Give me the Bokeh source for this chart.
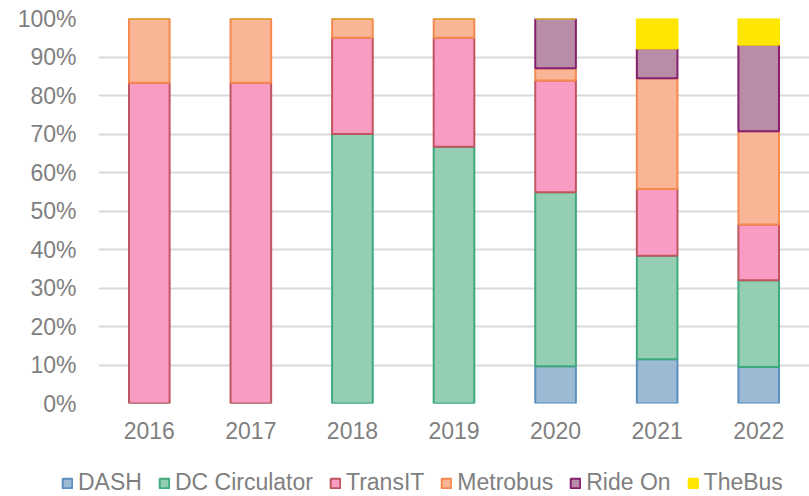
from bokeh.plotting import figure
from bokeh.models import (Range1d, FixedTicker, NumeralTickFormatter, Legend, ColumnDataSource,
                          CDSView, IndexFilter)
from bokeh.embed import file_html
from bokeh.resources import INLINE

years = ["2016", "2017", "2018", "2019", "2020", "2021", "2022"]
series = ["DASH", "DC Circulator", "TransIT", "Metrobus", "Ride On", "TheBus"]
dash = [0, 0, 0, 0, 0.097, 0.115, 0.095]
dc_circulator = [0, 0, 0.70, 0.667, 0.452, 0.269, 0.225]
transit = [0.833, 0.833, 0.25, 0.283, 0.290, 0.173, 0.145]
metrobus = [0.167, 0.167, 0.05, 0.05, 0.032, 0.288, 0.242]
ride_on = [0, 0, 0, 0, 0.129, 0.077, 0.225]
thebus = [0, 0, 0, 0, 0, 0.078, 0.068]
yticks = [0, 0.1, 0.2, 0.3, 0.4, 0.5, 0.6, 0.7, 0.8, 0.9, 1.0]

fills = ["#9dbad5", "#94cfb3", "#f99cc4", "#fab496", "#b98ca8", "#ffe600"]
lines = ["#5a8fbf", "#3daa7d", "#c0555f", "#f58a4f", "#86206e", "#ffe600"]

FONT = "Liberation Sans"
GREY = "#7f7f7f"

src = ColumnDataSource(dict(year=years, DASH=dash, **{"DC Circulator": dc_circulator},
                            TransIT=transit, Metrobus=metrobus, **{"Ride On": ride_on}, TheBus=thebus))

p = figure(x_range=years, y_range=Range1d(0, 1), width=809, height=446,
           output_backend="svg", toolbar_location=None,
           min_border_left=98, min_border_top=18, min_border_right=0, min_border_bottom=43)
p.outline_line_color = None

p.vbar_stack(series, x="year", width=0.4, source=src,
             fill_color=fills, line_color=lines, line_width=2)

p.yaxis.ticker = FixedTicker(ticks=yticks)
p.yaxis.formatter = NumeralTickFormatter(format="0%")
for ax in (p.xaxis[0], p.yaxis[0]):
    ax.axis_line_color = None
    ax.major_tick_line_color = None
    ax.minor_tick_line_color = None
    ax.major_label_text_font = FONT
    ax.major_label_text_font_size = "23px"
    ax.major_label_text_color = GREY
p.yaxis.major_label_standoff = 16
p.xaxis.major_label_standoff = 12
p.xgrid.grid_line_color = None
p.ygrid.ticker = FixedTicker(ticks=yticks)
p.ygrid.grid_line_color = "#d9d9d9"
p.ygrid.grid_line_width = 2

# legend strip: the same series, one row kept and scrolled out of view; only the legend shows
p2 = figure(x_range=years, y_range=Range1d(50, 51), width=809, height=50,
            output_backend="svg", toolbar_location=None,
            x_axis_location=None, y_axis_location=None, min_border=0)
p2.outline_line_color = None
p2.grid.visible = False
leg_renderers = p2.vbar_stack(series, x="year", width=0.4, source=src,
                              view=CDSView(filter=IndexFilter(indices=[6])),
                              fill_color=fills, line_color=lines, line_width=2)

legend = Legend(items=[(s, [r]) for s, r in zip(series, leg_renderers)],
                orientation="horizontal", location=(61, 0),
                label_text_font=FONT, label_text_font_size="23px", label_text_color=GREY,
                glyph_width=12, glyph_height=12, label_standoff=5, spacing=16,
                border_line_color=None, background_fill_color="white", background_fill_alpha=1,
                padding=0, margin=0)
p2.add_layout(legend)

open("out.html", "w").write(file_html([p, p2], INLINE))
